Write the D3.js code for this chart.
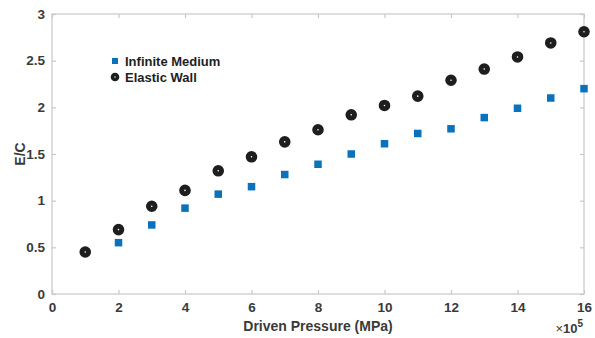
<!DOCTYPE html>
<html>
<head>
<meta charset="utf-8">
<script src="https://cdn.jsdelivr.net/npm/d3@7"></script>
<style>
  body { margin: 0; background: #fff; }
  text { font-family: Arial, 'Liberation Sans', sans-serif; font-weight: bold; }
</style>
</head>
<body>
<div class="chart"></div>
<script>
// Driven pressure (x 10^5 MPa)
const pressureInfinite = [2, 3, 4, 5, 6, 7, 8, 9, 10, 11, 12, 13, 14, 15, 16]
const ecInfinite = [0.55, 0.74, 0.92, 1.07, 1.15, 1.28, 1.39, 1.50, 1.61, 1.72, 1.77, 1.89, 1.99, 2.10, 2.20]

const pressureElastic = [1, 2, 3, 4, 5, 6, 7, 8, 9, 10, 11, 12, 13, 14, 15, 16]
const ecElastic = [0.45, 0.69, 0.94, 1.11, 1.32, 1.47, 1.63, 1.76, 1.92, 2.02, 2.12, 2.29, 2.41, 2.54, 2.69, 2.81]

const xTicks = [0, 2, 4, 6, 8, 10, 12, 14, 16]
const yTicks = [0, 0.5, 1, 1.5, 2, 2.5, 3]
const legendNames = ['Infinite Medium', 'Elastic Wall']

;(function () {
  const width = 595
  const height = 338
  const margin = { top: 14, right: 11, bottom: 44, left: 52 }
  const w = width - margin.left - margin.right
  const h = height - margin.top - margin.bottom

  const svg = d3.select('.chart').append('svg')
    .attr('width', width)
    .attr('height', height)

  const g = svg.append('g')
    .attr('transform', translation(margin.left, margin.top))

  const x = d3.scaleLinear().domain([0, 16]).range([0, w])
  const y = d3.scaleLinear().domain([0, 3]).range([h, 0])

  const axisColor = '#c8c8c8'
  const labelColor = '#3a3a3a'

  // box
  g.append('rect')
    .attr('width', w).attr('height', h)
    .attr('fill', 'none').attr('stroke', axisColor).attr('stroke-width', 1.2)

  // axes (ticks pointing inward)
  const xAxis = g.append('g')
    .attr('transform', translation(0, h))
    .call(d3.axisBottom(x).tickValues(xTicks).tickSize(-4).tickPadding(8).tickFormat(d3.format('d')))
  const xAxisTop = g.append('g')
    .call(d3.axisTop(x).tickValues(xTicks).tickSize(-4).tickFormat(''))
  const yAxis = g.append('g')
    .call(d3.axisLeft(y).tickValues(yTicks).tickSize(-4).tickPadding(7).tickFormat(d => d))
  const yAxisRight = g.append('g')
    .attr('transform', translation(w, 0))
    .call(d3.axisRight(y).tickValues(yTicks).tickSize(-4).tickFormat(''))

  ;[xAxis, xAxisTop, yAxis, yAxisRight].forEach(a => {
    a.select('.domain').remove()
    a.selectAll('line').attr('stroke', axisColor).attr('stroke-width', 1.2)
    a.selectAll('text').attr('fill', labelColor).style('font-size', '13.5px')
  })

  // axis titles
  g.append('text')
    .attr('x', w / 2).attr('y', h + 37)
    .attr('text-anchor', 'middle')
    .attr('fill', labelColor)
    .style('font-size', '14px')
    .text('Driven Pressure (MPa)')

  g.append('text')
    .attr('transform', translation(-27, h / 2) + ' rotate(-90)')
    .attr('text-anchor', 'middle')
    .attr('fill', labelColor)
    .style('font-size', '14px')
    .text('E/C')

  const expo = g.append('text')
    .attr('x', w - 1).attr('y', h + 39)
    .attr('text-anchor', 'end')
    .attr('fill', labelColor)
    .style('font-size', '13px')
  expo.append('tspan').style('font-weight', 'normal').text('\u00d7')
  expo.append('tspan').text('10')
  expo.append('tspan').attr('dy', -6).style('font-size', '10px').text('5')

  // infinite medium squares
  const sq = 7.5
  g.selectAll('.sq')
    .data(pressureInfinite.map((p, i) => ({ p, v: ecInfinite[i] })))
    .enter().append('rect')
    .attr('class', 'sq')
    .attr('x', d => x(d.p) - sq / 2)
    .attr('y', d => y(d.v) - sq / 2)
    .attr('width', sq).attr('height', sq)
    .attr('fill', '#0a72bd')

  // elastic wall circles (ring with tiny white centre)
  g.selectAll('.ring')
    .data(pressureElastic.map((p, i) => ({ p, v: ecElastic[i] })))
    .enter().append('circle')
    .attr('class', 'ring')
    .attr('cx', d => x(d.p))
    .attr('cy', d => y(d.v))
    .attr('r', 3.3)
    .attr('fill', '#fff')
    .attr('stroke', '#1e1e1e')
    .attr('stroke-width', 5)

  // legend
  const legend = g.append('g').attr('transform', translation(63, 47))
  legend.append('rect')
    .attr('x', -3).attr('y', -3).attr('width', 6).attr('height', 6)
    .attr('fill', '#0a72bd')
  legend.append('circle')
    .attr('cx', 0).attr('cy', 16).attr('r', 2.5)
    .attr('fill', '#fff').attr('stroke', '#1e1e1e').attr('stroke-width', 3.6)
  legend.selectAll('.lbl')
    .data(legendNames)
    .enter().append('text')
    .attr('class', 'lbl')
    .attr('x', 10).attr('y', (d, i) => i * 16 + 5)
    .attr('fill', '#1e1e1e')
    .style('font-size', '13px')
    .text(d => d)

  function translation (x, y) {
    return 'translate(' + x + ',' + y + ')'
  }
}())
</script>
</body>
</html>
